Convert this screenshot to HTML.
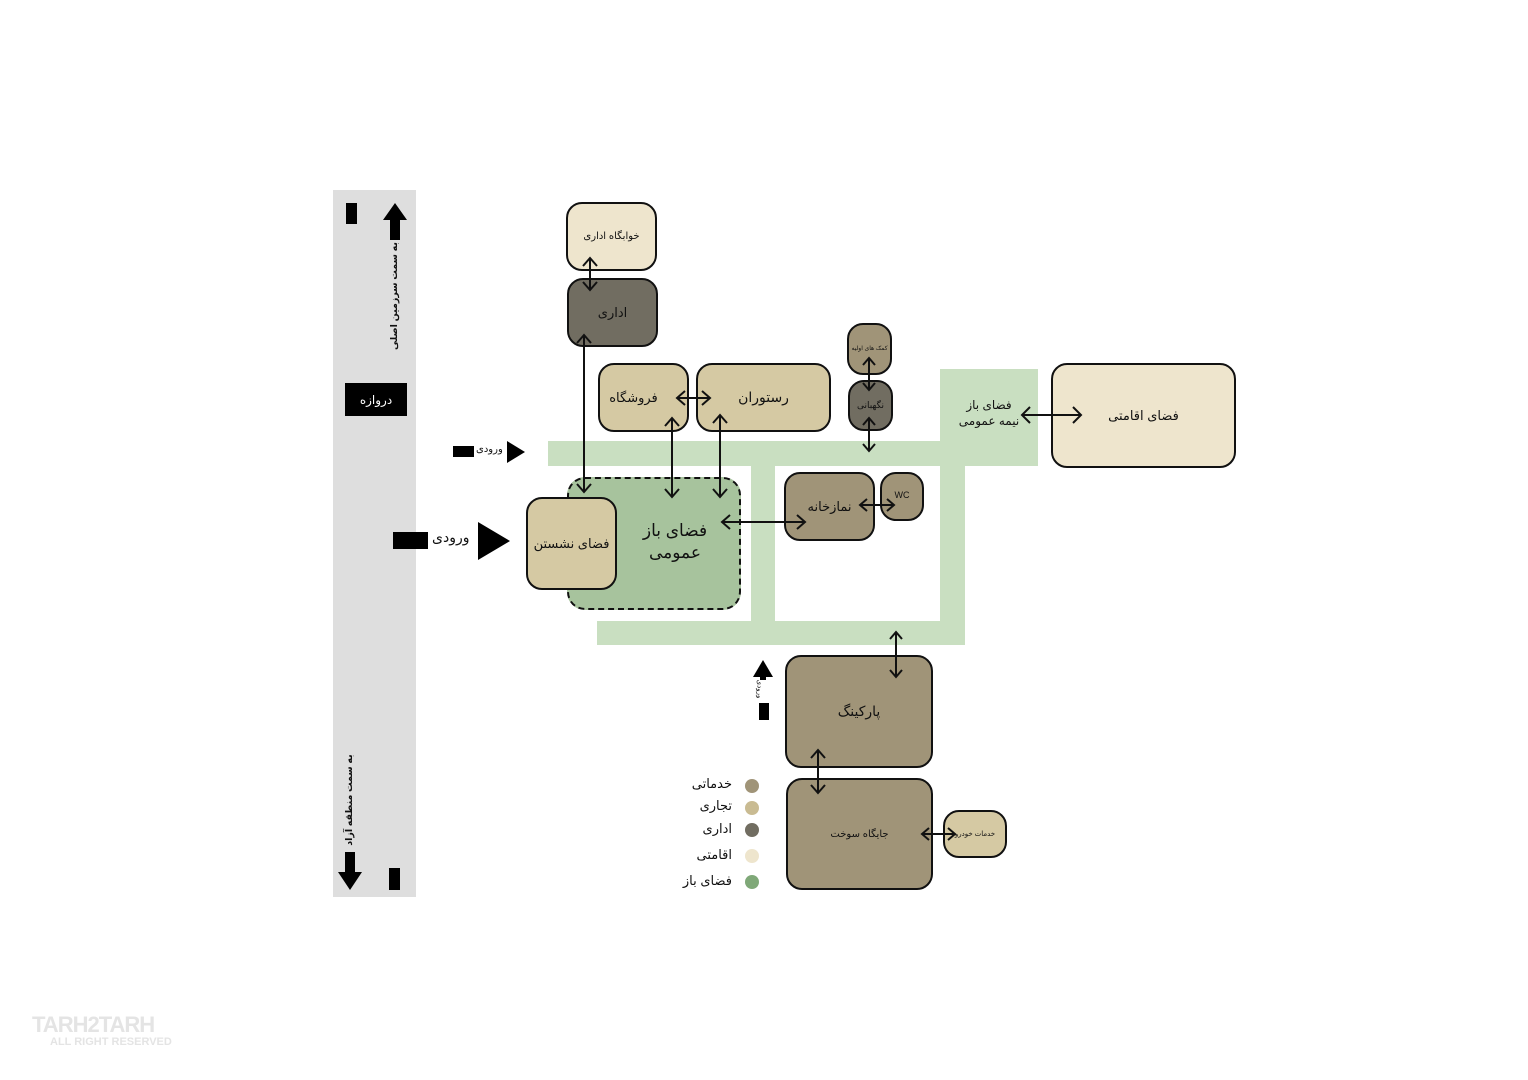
<!DOCTYPE html>
<html><head><meta charset="utf-8"><style>
body{margin:0;width:1528px;height:1080px;background:#fff;position:relative;overflow:hidden;font-family:"Liberation Sans","Noto Sans CJK SC","DejaVu Sans",sans-serif;}
.a{position:absolute;box-sizing:border-box;}
.n{position:absolute;box-sizing:border-box;border:2px solid #111;border-radius:16px;display:flex;align-items:center;justify-content:center;text-align:center;color:#111;direction:rtl;}
.g{position:absolute;background:#c9dfc1;}
.t{position:absolute;direction:rtl;color:#111;white-space:nowrap;}
</style></head><body>
<div class="a" style="left:333px;top:190px;width:83px;height:707px;background:#dedede"></div>
<div class="a" style="left:346px;top:203px;width:11px;height:21px;background:#000"></div>
<div class="a" style="left:389px;top:868px;width:11px;height:22px;background:#000"></div>
<div class="a" style="left:345px;top:383px;width:62px;height:33px;background:#000;color:#fff;font-size:12px;display:flex;align-items:center;justify-content:center;direction:rtl">دروازه</div>
<div class="t" style="left:330px;top:289px;width:130px;height:14px;line-height:14px;font-size:9.5px;font-weight:bold;transform:rotate(-90deg);text-align:center">به سمت سرزمین اصلی</div>
<div class="t" style="left:285px;top:793px;width:130px;height:14px;line-height:14px;font-size:9.5px;font-weight:bold;transform:rotate(-90deg);text-align:center">به سمت منطقه آزاد</div>

<div class="g" style="left:548px;top:441px;width:490px;height:25px"></div>
<div class="g" style="left:940px;top:369px;width:98px;height:97px"></div>
<div class="g" style="left:751px;top:466px;width:24px;height:160px"></div>
<div class="g" style="left:940px;top:466px;width:25px;height:179px"></div>
<div class="g" style="left:597px;top:621px;width:368px;height:24px"></div>

<div class="a" style="left:567px;top:477px;width:174px;height:133px;background:#a7c39d;border:2px dashed #111;border-radius:18px"></div>
<div class="t" style="left:610px;top:520px;width:130px;text-align:center;font-size:17px;line-height:22px">فضای باز<br>عمومی</div>
<div class="n" style="left:526px;top:497px;width:91px;height:93px;background:#d5c9a3;font-size:13px">فضای نشستن</div>
<div class="n" style="left:566px;top:202px;width:91px;height:69px;background:#eee5cd;font-size:10px">خوابگاه اداری</div>
<div class="n" style="left:567px;top:278px;width:91px;height:69px;background:#716d61;font-size:13px">اداری</div>
<div class="n" style="left:598px;top:363px;width:91px;height:69px;background:#d5c9a3;font-size:13px;padding-right:20px">فروشگاه</div>
<div class="n" style="left:696px;top:363px;width:135px;height:69px;background:#d5c9a3;font-size:14px">رستوران</div>
<div class="n" style="left:847px;top:323px;width:45px;height:52px;background:#a09478;font-size:6px;align-items:flex-start;padding-top:20px">کمک های اولیه</div>
<div class="n" style="left:848px;top:380px;width:45px;height:51px;background:#716d61;font-size:9px">نگهبانی</div>
<div class="n" style="left:1051px;top:363px;width:185px;height:105px;background:#eee5cd;font-size:13px">فضای اقامتی</div>
<div class="t" style="left:950px;top:397px;width:78px;text-align:center;font-size:12px;line-height:16px">فضای باز<br>نیمه عمومی</div>
<div class="n" style="left:784px;top:472px;width:91px;height:69px;background:#a09478;font-size:13px">نمازخانه</div>
<div class="n" style="left:880px;top:472px;width:44px;height:49px;background:#a09478;font-size:9px;align-items:flex-start;padding-top:16px">WC</div>
<div class="n" style="left:785px;top:655px;width:148px;height:113px;background:#a09478;font-size:14px">پارکینگ</div>
<div class="n" style="left:786px;top:778px;width:147px;height:112px;background:#a09478;font-size:10px">جایگاه سوخت</div>
<div class="n" style="left:943px;top:810px;width:64px;height:48px;background:#d5c9a3;font-size:7px">خدمات خودرو</div>

<div class="a" style="left:745px;top:779px;width:14px;height:14px;border-radius:50%;background:#a09478"></div>
<div class="a" style="left:745px;top:801px;width:14px;height:14px;border-radius:50%;background:#c9bb92"></div>
<div class="a" style="left:745px;top:823px;width:14px;height:14px;border-radius:50%;background:#716d61"></div>
<div class="a" style="left:745px;top:849px;width:14px;height:14px;border-radius:50%;background:#eee5cd"></div>
<div class="a" style="left:745px;top:875px;width:14px;height:14px;border-radius:50%;background:#7fa878"></div>
<div class="t" style="left:632px;top:776px;width:100px;text-align:right;direction:ltr;font-size:13px">خدماتی</div>
<div class="t" style="left:632px;top:798px;width:100px;text-align:right;direction:ltr;font-size:13px">تجاری</div>
<div class="t" style="left:632px;top:821px;width:100px;text-align:right;direction:ltr;font-size:13px">اداری</div>
<div class="t" style="left:632px;top:847px;width:100px;text-align:right;direction:ltr;font-size:13px">اقامتی</div>
<div class="t" style="left:632px;top:873px;width:100px;text-align:right;direction:ltr;font-size:13px">فضای باز</div>

<div class="a" style="left:453px;top:446px;width:21px;height:11px;background:#000"></div>
<div class="t" style="left:476px;top:444px;font-size:10px">ورودی</div>
<div class="a" style="left:393px;top:532px;width:35px;height:17px;background:#000"></div>
<div class="t" style="left:432px;top:529px;font-size:14px">ورودی</div>
<div class="a" style="left:759px;top:703px;width:10px;height:17px;background:#000"></div>
<div class="t" style="left:750px;top:685px;font-size:7px;transform:rotate(90deg)">ورودی</div>

<svg class="a" style="left:0;top:0" width="1528" height="1080">
<g fill="#000">
<polygon points="395,203 407,220 400,220 400,240 390,240 390,220 383,220"/>
<polygon points="350,890 362,872 355,872 355,852 345,852 345,872 338,872"/>
<polygon points="507,441 525,452 507,463"/>
<polygon points="478,522 510,541 478,560"/>
<polygon points="763,660 773,677 753,677"/>
<rect x="760" y="677" width="6" height="3"/>
</g>
<g stroke="#111" stroke-width="2" fill="none">
<path d="M590,258V290M583,266L590,258L597,266M583,282L590,290L597,282"/>
<path d="M584,335V492M577,343L584,335L591,343M577,484L584,492L591,484"/>
<path d="M672,418V497M665,426L672,418L679,426M665,489L672,497L679,489"/>
<path d="M720,415V497M713,423L720,415L727,423M713,489L720,497L727,489"/>
<path d="M677,398H710M685,391L677,398L685,405M702,391L710,398L702,405"/>
<path d="M722,522H805M730,515L722,522L730,529M797,515L805,522L797,529"/>
<path d="M860,505H894M867,499L860,505L867,511M887,499L894,505L887,511"/>
<path d="M869,358V390M863,365L869,358L875,365M863,383L869,390L875,383"/>
<path d="M869,418V451M863,425L869,418L875,425M863,444L869,451L875,444"/>
<path d="M1022,415H1081M1030,407L1022,415L1030,423M1073,407L1081,415L1073,423"/>
<path d="M896,632V677M890,639L896,632L902,639M890,670L896,677L902,670"/>
<path d="M818,750V793M811,758L818,750L825,758M811,785L818,793L825,785"/>
<path d="M922,834H955M929,828L922,834L929,840M948,828L955,834L948,840"/>
</g>
</svg>
<div class="t" style="left:32px;top:1012px;direction:ltr;font-size:22px;font-weight:bold;color:#e4e4e4;letter-spacing:-1px">TARH2TARH</div>
<div class="t" style="left:50px;top:1036px;direction:ltr;font-size:11px;font-weight:bold;color:#e4e4e4">ALL RIGHT RESERVED</div>
</body></html>
